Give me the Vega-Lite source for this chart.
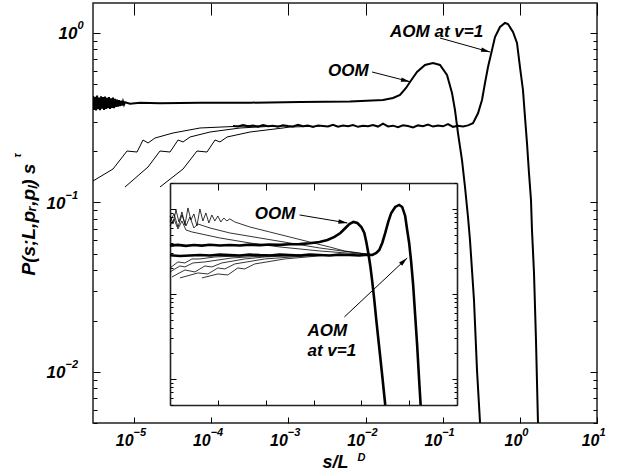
{
  "$schema": "https://vega.github.io/schema/vega-lite/v6.json",
  "width": 504,
  "height": 420,
  "autosize": {"type": "none"},
  "padding": {"left": 93, "top": 3, "right": 21, "bottom": 53},
  "background": "white",
  "config": {
    "view": {"stroke": "#222", "strokeWidth": 1.5},
    "axis": {"grid": false, "labelFont": "Liberation Sans", "titleFont": "Liberation Sans", "labelColor": "#000", "titleColor": "#000", "tickColor": "#000", "tickWidth": 1, "domainColor": "#222", "domainWidth": 1.6, "labelFontWeight": "bold", "labelFontStyle": "italic", "titleFontWeight": "bold", "titleFontStyle": "italic", "labelOverlap": false, "labelBound": false, "labelFlush": false}
  },
  "datasets": {
    "mThick": [
      {"c":"O","x":2.94e-6,"y":0.425},{"c":"O","x":3.03e-6,"y":0.352},{"c":"O","x":3.12e-6,"y":0.42},{"c":"O","x":3.22e-6,"y":0.349},{"c":"O","x":3.32e-6,"y":0.428},{"c":"O","x":3.42e-6,"y":0.355},{"c":"O","x":3.52e-6,"y":0.416},{"c":"O","x":3.63e-6,"y":0.35},{"c":"O","x":3.74e-6,"y":0.423},{"c":"O","x":3.85e-6,"y":0.358},{"c":"O","x":3.97e-6,"y":0.418},{"c":"O","x":4.09e-6,"y":0.352},{"c":"O","x":4.21e-6,"y":0.421},{"c":"O","x":4.34e-6,"y":0.356},{"c":"O","x":4.47e-6,"y":0.414},{"c":"O","x":4.6e-6,"y":0.36},{"c":"O","x":4.74e-6,"y":0.419},{"c":"O","x":4.89e-6,"y":0.357},{"c":"O","x":5.04e-6,"y":0.412},{"c":"O","x":5.19e-6,"y":0.362},{"c":"O","x":5.34e-6,"y":0.416},{"c":"O","x":5.51e-6,"y":0.36},{"c":"O","x":5.67e-6,"y":0.409},{"c":"O","x":5.84e-6,"y":0.366},{"c":"O","x":6.02e-6,"y":0.405},{"c":"O","x":6.2e-6,"y":0.368},{"c":"O","x":6.39e-6,"y":0.402},{"c":"O","x":6.59e-6,"y":0.371},{"c":"O","x":6.78e-6,"y":0.398},{"c":"O","x":6.99e-6,"y":0.374},{"c":"O","x":7.2e-6,"y":0.395},{"c":"O","x":7.42e-6,"y":0.378},{"c":"O","x":7.64e-6,"y":0.39},{"c":"O","x":8.88e-6,"y":0.383},{"c":"O","x":1.196e-5,"y":0.388},{"c":"O","x":2.17e-5,"y":0.385},{"c":"O","x":7.17e-5,"y":0.387},{"c":"O","x":3.19e-4,"y":0.388},{"c":"O","x":1.416e-3,"y":0.391},{"c":"O","x":6.3e-3,"y":0.394},{"c":"O","x":1.685e-2,"y":0.4025},{"c":"O","x":2.272e-2,"y":0.4135},{"c":"O","x":2.8e-2,"y":0.4306},{"c":"O","x":3.35e-2,"y":0.4736},{"c":"O","x":3.77e-2,"y":0.514},{"c":"O","x":4.65e-2,"y":0.589},{"c":"O","x":5.9e-2,"y":0.6476},{"c":"O","x":7.49e-2,"y":0.665},{"c":"O","x":9.23e-2,"y":0.6476},{"c":"O","x":0.1138,"y":0.565},{"c":"O","x":0.1321,"y":0.4426},{"c":"O","x":0.1444,"y":0.3513},{"c":"O","x":0.1579,"y":0.257},{"c":"O","x":0.178,"y":0.178},{"c":"O","x":0.1947,"y":0.1234},{"c":"O","x":0.2129,"y":0.0821},{"c":"O","x":0.2259,"y":0.0601},{"c":"O","x":0.2546,"y":0.0266},{"c":"O","x":0.2785,"y":0.01027},{"c":"O","x":0.3138,"y":0.004},
      {"c":"A","x":1.918e-4,"y":0.283},{"c":"A","x":2.227e-4,"y":0.2805},{"c":"A","x":2.585e-4,"y":0.286},{"c":"A","x":3.001e-4,"y":0.2815},{"c":"A","x":3.484e-4,"y":0.2845},{"c":"A","x":4.045e-4,"y":0.28},{"c":"A","x":4.695e-4,"y":0.2865},{"c":"A","x":5.451e-4,"y":0.282},{"c":"A","x":6.328e-4,"y":0.284},{"c":"A","x":7.346e-4,"y":0.2795},{"c":"A","x":8.528e-4,"y":0.2855},{"c":"A","x":9.9e-4,"y":0.2825},{"c":"A","x":1.149e-3,"y":0.281},{"c":"A","x":1.334e-3,"y":0.287},{"c":"A","x":1.549e-3,"y":0.2815},{"c":"A","x":1.798e-3,"y":0.2845},{"c":"A","x":2.088e-3,"y":0.279},{"c":"A","x":2.423e-3,"y":0.285},{"c":"A","x":2.813e-3,"y":0.283},{"c":"A","x":3.266e-3,"y":0.281},{"c":"A","x":3.792e-3,"y":0.2875},{"c":"A","x":4.402e-3,"y":0.28},{"c":"A","x":5.11e-3,"y":0.2845},{"c":"A","x":5.932e-3,"y":0.282},{"c":"A","x":6.886e-3,"y":0.286},{"c":"A","x":7.995e-3,"y":0.2795},{"c":"A","x":9.281e-3,"y":0.2835},{"c":"A","x":1.0775e-2,"y":0.2815},{"c":"A","x":1.2508e-2,"y":0.2865},{"c":"A","x":1.4521e-2,"y":0.2805},{"c":"A","x":1.6857e-2,"y":0.2915},{"c":"A","x":1.957e-2,"y":0.281},{"c":"A","x":2.272e-2,"y":0.284},{"c":"A","x":2.637e-2,"y":0.2785},{"c":"A","x":3.062e-2,"y":0.2855},{"c":"A","x":3.554e-2,"y":0.2825},{"c":"A","x":4.126e-2,"y":0.2775},{"c":"A","x":4.79e-2,"y":0.285},{"c":"A","x":5.561e-2,"y":0.282},{"c":"A","x":6.456e-2,"y":0.288},{"c":"A","x":7.494e-2,"y":0.2805},{"c":"A","x":8.7e-2,"y":0.2845},{"c":"A","x":0.101,"y":0.2815},{"c":"A","x":0.1173,"y":0.29},{"c":"A","x":0.1361,"y":0.2795},{"c":"A","x":0.158,"y":0.2835},{"c":"A","x":0.1834,"y":0.281},{"c":"A","x":0.2129,"y":0.285},{"c":"A","x":0.2472,"y":0.2934},{"c":"A","x":0.287,"y":0.336},{"c":"A","x":0.3233,"y":0.4025},{"c":"A","x":0.3536,"y":0.507},{"c":"A","x":0.3868,"y":0.63},{"c":"A","x":0.4357,"y":0.794},{"c":"A","x":0.4764,"y":0.947},{"c":"A","x":0.5531,"y":1.085},{"c":"A","x":0.6421,"y":1.146},{"c":"A","x":0.7022,"y":1.13},{"c":"A","x":0.8152,"y":1.014},{"c":"A","x":0.9187,"y":0.873},{"c":"A","x":1.0044,"y":0.63},{"c":"A","x":1.098,"y":0.461},{"c":"A","x":1.166,"y":0.3194},{"c":"A","x":1.238,"y":0.2244},{"c":"A","x":1.314,"y":0.1493},{"c":"A","x":1.395,"y":0.1034},{"c":"A","x":1.437,"y":0.0688},{"c":"A","x":1.526,"y":0.0384},{"c":"A","x":1.619,"y":0.01544},{"c":"A","x":1.719,"y":0.005},{"c":"A","x":1.771,"y":0.004}
    ],
    "mThin": [
      {"c":"1","x":2.94e-6,"y":0.1339},{"c":"1","x":5.34e-6,"y":0.1576},{"c":"1","x":8.12e-6,"y":0.2012},{"c":"1","x":1.094e-5,"y":0.1985},{"c":"1","x":1.308e-5,"y":0.2337},{"c":"1","x":1.519e-5,"y":0.2244},{"c":"1","x":1.871e-5,"y":0.2401},{"c":"1","x":3.2e-5,"y":0.257},{"c":"1","x":7.17e-5,"y":0.2751},{"c":"1","x":2.364e-4,"y":0.282},{"c":"1","x":5e-4,"y":0.283},
      {"c":"2","x":7.64e-6,"y":0.1234},{"c":"2","x":1.519e-5,"y":0.162},{"c":"2","x":2.17e-5,"y":0.2012},{"c":"2","x":2.93e-5,"y":0.1985},{"c":"2","x":3.72e-5,"y":0.2337},{"c":"2","x":4.32e-5,"y":0.2275},{"c":"2","x":5.32e-5,"y":0.2434},{"c":"2","x":9.66e-5,"y":0.2605},{"c":"2","x":2.364e-4,"y":0.2751},{"c":"2","x":6.33e-4,"y":0.282},{"c":"2","x":1e-3,"y":0.283},
      {"c":"3","x":2.17e-5,"y":0.1234},{"c":"3","x":4.32e-5,"y":0.1576},{"c":"3","x":6.55e-5,"y":0.2012},{"c":"3","x":8.83e-5,"y":0.1985},{"c":"3","x":1.121e-4,"y":0.2337},{"c":"3","x":1.301e-4,"y":0.2275},{"c":"3","x":1.604e-4,"y":0.2434},{"c":"3","x":3.19e-4,"y":0.2605},{"c":"3","x":8.53e-4,"y":0.2751},{"c":"3","x":1.051e-3,"y":0.2789},{"c":"3","x":2.57e-3,"y":0.282}
    ],
    "mText": [
      {"t":"OOM","x":3.266e-3,"y":0.597},
      {"t":"AOM at v=1","x":2.08e-2,"y":1.014}
    ],
    "mArrow": [
      {"a":"OOM","x":1.213e-2,"y":0.589,"x2":3.77e-2,"y2":0.516},
      {"a":"AOM","x":9.23e-2,"y":0.934,"x2":0.4105,"y2":0.772}
    ],
    "iThick": [
      {"c":"O","x":1,"y":3.70},{"c":"O","x":1.4678,"y":3.78},{"c":"O","x":2.1544,"y":3.68},{"c":"O","x":3.1623,"y":3.76},{"c":"O","x":4.6416,"y":3.70},{"c":"O","x":6.8129,"y":3.79},{"c":"O","x":11.007,"y":3.71},{"c":"O","x":17.783,"y":3.77},{"c":"O","x":28.73,"y":3.72},{"c":"O","x":46.42,"y":3.80},{"c":"O","x":74.99,"y":3.75},{"c":"O","x":121.15,"y":3.82},{"c":"O","x":195.73,"y":3.78},{"c":"O","x":316.2,"y":3.85},{"c":"O","x":510.9,"y":3.86},{"c":"O","x":825.4,"y":3.95},{"c":"O","x":1333.5,"y":4.09},{"c":"O","x":1957.3,"y":4.318},{"c":"O","x":2738.4,"y":4.684},{"c":"O","x":3651.7,"y":5.22},{"c":"O","x":4641.6,"y":5.976},{"c":"O","x":5623.4,"y":6.659},{"c":"O","x":6812.9,"y":7.031},{"c":"O","x":8254,"y":6.842},{"c":"O","x":10000,"y":6.14},{"c":"O","x":11548,"y":5.22},{"c":"O","x":12711,"y":4.09},{"c":"O","x":13990,"y":3.036},{"c":"O","x":15399,"y":2.135},{"c":"O","x":16950,"y":1.384},{"c":"O","x":18657,"y":0.85},{"c":"O","x":20535,"y":0.494},{"c":"O","x":23714,"y":0.2316},{"c":"O","x":27384,"y":0.1085},{"c":"O","x":31623,"y":0.0494},
      {"c":"A","x":1,"y":2.85},{"c":"A","x":1.6155,"y":2.80},{"c":"A","x":2.6102,"y":2.84},{"c":"A","x":4.217,"y":2.87},{"c":"A","x":6.8129,"y":2.83},{"c":"A","x":11.007,"y":2.90},{"c":"A","x":17.783,"y":2.86},{"c":"A","x":28.73,"y":2.83},{"c":"A","x":46.42,"y":2.90},{"c":"A","x":74.99,"y":2.86},{"c":"A","x":121.15,"y":2.84},{"c":"A","x":195.73,"y":2.90},{"c":"A","x":316.2,"y":2.86},{"c":"A","x":510.9,"y":2.83},{"c":"A","x":825.4,"y":2.90},{"c":"A","x":1333.5,"y":2.87},{"c":"A","x":2154.4,"y":2.84},{"c":"A","x":3480.6,"y":2.90},{"c":"A","x":5623.4,"y":2.87},{"c":"A","x":9085,"y":2.84},{"c":"A","x":13335,"y":2.90},{"c":"A","x":16950,"y":2.876},{"c":"A","x":20535,"y":3.036},{"c":"A","x":23714,"y":3.294},{"c":"A","x":27384,"y":3.981},{"c":"A","x":31623,"y":5.22},{"c":"A","x":36517,"y":7.031},{"c":"A","x":42170,"y":8.974},{"c":"A","x":51089,"y":10.556},{"c":"A","x":61897,"y":11.146},{"c":"A","x":71481,"y":10.556},{"c":"A","x":82540,"y":8.272},{"c":"A","x":90850,"y":5.661},{"c":"A","x":100000,"y":3.981},{"c":"A","x":110070,"y":2.38},{"c":"A","x":121150,"y":1.276},{"c":"A","x":133350,"y":0.566},{"c":"A","x":146780,"y":0.2512},{"c":"A","x":161550,"y":0.0973},{"c":"A","x":173640,"y":0.0494}
    ],
    "iThin": [
      {"c":"h1","x":1,"y":8.272},{"c":"h1","x":1.1548,"y":6.659},{"c":"h1","x":1.3335,"y":9.732},{"c":"h1","x":1.54,"y":7.031},{"c":"h1","x":1.7783,"y":9.221},{"c":"h1","x":2.0535,"y":6.481},{"c":"h1","x":2.3714,"y":10.275},{"c":"h1","x":2.7384,"y":7.423},{"c":"h1","x":3.1623,"y":8.734},{"c":"h1","x":3.6517,"y":6.31},{"c":"h1","x":4.217,"y":10.0},{"c":"h1","x":4.8697,"y":7.224},{"c":"h1","x":5.6234,"y":8.974},{"c":"h1","x":6.4938,"y":6.842},{"c":"h1","x":7.4989,"y":8.5},{"c":"h1","x":8.6596,"y":7.224},{"c":"h1","x":10,"y":8.272},{"c":"h1","x":11.548,"y":7.031},{"c":"h1","x":13.335,"y":7.836},{"c":"h1","x":15.4,"y":7.224},{"c":"h1","x":17.783,"y":7.627},{"c":"h1","x":22.6,"y":7.031},{"c":"h1","x":46.42,"y":6.14},{"c":"h1","x":121.15,"y":5.362},{"c":"h1","x":316.2,"y":4.684},{"c":"h1","x":825.4,"y":4.09},{"c":"h1","x":2154.4,"y":3.573},{"c":"h1","x":4424.8,"y":3.206},{"c":"h1","x":9085,"y":3.036},{"c":"h1","x":16950,"y":2.876},
      {"c":"h2","x":1,"y":7.031},{"c":"h2","x":1.2115,"y":8.734},{"c":"h2","x":1.4678,"y":6.14},{"c":"h2","x":1.7783,"y":8.5},{"c":"h2","x":2.1544,"y":6.31},{"c":"h2","x":2.6102,"y":8.052},{"c":"h2","x":3.1623,"y":5.976},{"c":"h2","x":3.8312,"y":6.659},{"c":"h2","x":6.8129,"y":5.976},{"c":"h2","x":17.783,"y":5.22},{"c":"h2","x":74.99,"y":4.559},{"c":"h2","x":316.2,"y":3.981},{"c":"h2","x":1333.5,"y":3.477},{"c":"h2","x":5623.4,"y":3.12},{"c":"h2","x":16950,"y":2.876},
      {"c":"h3","x":1,"y":6.31},{"c":"h3","x":1.2115,"y":7.627},{"c":"h3","x":1.4678,"y":5.817},{"c":"h3","x":1.7783,"y":7.224},{"c":"h3","x":2.1544,"y":5.661},{"c":"h3","x":2.873,"y":5.362},{"c":"h3","x":11.007,"y":4.559},{"c":"h3","x":46.42,"y":3.981},{"c":"h3","x":195.73,"y":3.573},{"c":"h3","x":1333.5,"y":3.206},{"c":"h3","x":16950,"y":2.876},
      {"c":"l1","x":1,"y":2.022},{"c":"l1","x":1.4678,"y":2.38},{"c":"l1","x":2.0535,"y":2.316},{"c":"l1","x":2.873,"y":2.581},{"c":"l1","x":4.217,"y":2.581},{"c":"l1","x":8.6596,"y":2.724},{"c":"l1","x":28.73,"y":2.8},{"c":"l1","x":95.33,"y":2.876},{"c":"l1","x":510.9,"y":2.876},
      {"c":"l2","x":1,"y":1.815},{"c":"l2","x":1.6155,"y":2.135},{"c":"l2","x":2.0535,"y":2.078},{"c":"l2","x":3.0142,"y":2.316},{"c":"l2","x":5.3597,"y":2.38},{"c":"l2","x":19.573,"y":2.652},{"c":"l2","x":95.33,"y":2.8},{"c":"l2","x":510.9,"y":2.876},
      {"c":"l3","x":1.1007,"y":1.585},{"c":"l3","x":2.0535,"y":1.915},{"c":"l3","x":3.3176,"y":1.815},{"c":"l3","x":5.3597,"y":2.135},{"c":"l3","x":7.4989,"y":2.078},{"c":"l3","x":12.115,"y":2.316},{"c":"l3","x":36.52,"y":2.581},{"c":"l3","x":95.33,"y":2.724},{"c":"l3","x":825.4,"y":2.876},
      {"c":"l4","x":1.6155,"y":1.543},{"c":"l4","x":3.8312,"y":1.766},{"c":"l4","x":6.1897,"y":1.719},{"c":"l4","x":10,"y":2.022},{"c":"l4","x":13.99,"y":1.968},{"c":"l4","x":22.6,"y":2.254},{"c":"l4","x":95.33,"y":2.581},{"c":"l4","x":1333.5,"y":2.876},
      {"c":"l5","x":4.6416,"y":1.543},{"c":"l5","x":10,"y":1.719},{"c":"l5","x":16.155,"y":1.673},{"c":"l5","x":26.1,"y":2.022},{"c":"l5","x":36.52,"y":1.968},{"c":"l5","x":58.99,"y":2.254},{"c":"l5","x":248.8,"y":2.581},{"c":"l5","x":2154.4,"y":2.876}
    ],
    "iText": [
      {"t":"OOM","x":58.99,"y":8.615},
      {"t":"AOM","x":749.9,"y":0.3671},
      {"t":"at v=1","x":749.9,"y":0.2135}
    ],
    "iArrow": [
      {"a":"OOM","x":510.9,"y":8.5,"x2":5109,"y2":6.842},
      {"a":"AOM","x":4424.8,"y":0.5365,"x2":90850,"y2":2.652}
    ],
    "dM": [{"x":0.001,"y":0.1}],
    "dI": [{"x":100,"y":1}]
  },
  "resolve": {"scale": {"x": "independent", "y": "independent"}},
  "layer": [
    {
      "encoding": {
        "x": {"field": "x", "type": "quantitative", "scale": {"type": "log", "domain": [2.94e-6, 10], "nice": false},
              "axis": {"orient": "bottom", "values": [1e-5, 1e-4, 1e-3, 1e-2, 1e-1, 1, 10], "labels": false, "domain": false, "tickSize": -6, "title": null}},
        "y": {"field": "y", "type": "quantitative", "scale": {"type": "log", "domain": [0.005, 1.503], "nice": false},
              "axis": {"orient": "left", "values": [0.005,0.006,0.007,0.008,0.009,0.01,0.02,0.03,0.04,0.05,0.06,0.07,0.08,0.09,0.1,0.2,0.3,0.4,0.5,0.6,0.7,0.8,0.9,1], "labels": false, "domain": false,
                       "tickSize": {"condition": {"test": "abs(log(datum.value)/LN10 - round(log(datum.value)/LN10)) < 0.001", "value": -7}, "value": -4}, "title": null}}
      },
      "layer": [
        {"data": {"name": "mThin"}, "mark": {"type": "line", "color": "#000", "strokeWidth": 1, "clip": true}, "encoding": {"detail": {"field": "c"}}},
        {"data": {"name": "mThick"}, "mark": {"type": "line", "color": "#000", "strokeWidth": 2, "clip": true}, "encoding": {"detail": {"field": "c"}}},
        {"data": {"name": "mText"}, "mark": {"type": "text", "align": "left", "baseline": "middle", "font": "Liberation Sans", "fontSize": 17, "fontWeight": "bold", "fontStyle": "italic", "color": "#000"}, "encoding": {"text": {"field": "t"}}},
        {"data": {"name": "mArrow"}, "mark": {"type": "rule", "color": "#000", "strokeWidth": 1}, "encoding": {"x2": {"field": "x2"}, "y2": {"field": "y2"}}},
        {"data": {"name": "mArrow"}, "transform": [{"filter": "datum.a == 'OOM'"}], "mark": {"type": "point", "shape": "M0,0L-1.8,-0.45L-1.8,0.45Z", "size": 100, "filled": true, "color": "#000", "opacity": 1, "angle": 13}, "encoding": {"x": {"field": "x2", "type": "quantitative"}, "y": {"field": "y2", "type": "quantitative"}}},
        {"data": {"name": "mArrow"}, "transform": [{"filter": "datum.a == 'AOM'"}], "mark": {"type": "point", "shape": "M0,0L-1.8,-0.45L-1.8,0.45Z", "size": 100, "filled": true, "color": "#000", "opacity": 1, "angle": 16}, "encoding": {"x": {"field": "x2", "type": "quantitative"}, "y": {"field": "y2", "type": "quantitative"}}}
      ]
    },
    {
      "data": {"name": "dM"},
      "mark": {"type": "point", "opacity": 0},
      "encoding": {
        "x": {"field": "x", "type": "quantitative", "scale": {"type": "log", "domain": [2.94e-6, 10], "nice": false},
              "axis": {"orient": "top", "values": [1e-5, 1e-4, 1e-3, 1e-2, 1e-1, 1, 10], "labels": false, "domain": false, "tickSize": -12, "title": null}},
        "y": {"field": "y", "type": "quantitative", "scale": {"type": "log", "domain": [0.005, 1.503], "nice": false},
              "axis": {"orient": "right", "values": [0.005,0.006,0.007,0.008,0.009,0.01,0.02,0.03,0.04,0.05,0.06,0.07,0.08,0.09,0.1,0.2,0.3,0.4,0.5,0.6,0.7,0.8,0.9,1], "labels": false, "domain": false,
                       "tickSize": {"condition": {"test": "abs(log(datum.value)/LN10 - round(log(datum.value)/LN10)) < 0.001", "value": -7}, "value": -4}, "title": null}}
      }
    },
    {
      "data": {"name": "dM"},
      "mark": {"type": "point", "opacity": 0},
      "encoding": {
        "x": {"field": "x", "type": "quantitative", "scale": {"type": "log", "domain": [2.94e-6, 10], "nice": false},
              "axis": {"orient": "bottom", "values": [1e-5, 1e-4, 1e-3, 1e-2, 1e-1, 1, 10], "ticks": false, "domain": false, "labelExpr": "'10'",
                       "labelAlign": "right", "labelBaseline": "alphabetic", "labelPadding": 22, "labelFontSize": 16,
                       "labelOffset": {"condition": {"test": "datum.value >= 1", "value": 2}, "value": -1},
                       "title": "s/L", "titleFontSize": 18, "titleX": 242, "titleY": 44, "titleAlign": "center", "titleBaseline": "alphabetic", "titleAngle": 0}},
        "y": {"field": "y", "type": "quantitative", "scale": {"type": "log", "domain": [0.005, 1.503], "nice": false},
              "axis": {"orient": "left", "values": [0.01, 0.1, 1], "ticks": false, "domain": false, "labelExpr": "'10'",
                       "labelAlign": "right", "labelBaseline": "alphabetic", "labelOffset": 6, "labelFontSize": 17,
                       "labelPadding": {"condition": {"test": "datum.value >= 1", "value": 16}, "value": 28},
                       "title": "P(s;L,pᵣ,pₗ) s", "titleFontSize": 19, "titleX": -59, "titleY": 216, "titleAlign": "center", "titleBaseline": "alphabetic", "titleAngle": 270}}
      }
    },
    {
      "data": {"name": "dM"},
      "mark": {"type": "point", "opacity": 0},
      "encoding": {
        "x": {"field": "x", "type": "quantitative", "scale": {"type": "log", "domain": [2.94e-6, 10], "nice": false},
              "axis": {"orient": "bottom", "values": [1e-5, 1e-4, 1e-3, 1e-2, 1e-1, 1, 10], "ticks": false, "domain": false,
                       "labelExpr": "datum.value >= 1 ? '' + round(log(datum.value)/LN10) : '−' + round(-log(datum.value)/LN10)",
                       "labelAlign": "left", "labelBaseline": "alphabetic", "labelPadding": 12, "labelFontSize": 11,
                       "labelOffset": {"condition": {"test": "datum.value >= 1", "value": 2}, "value": -1},
                       "title": "D", "titleFontSize": 11, "titleX": 264, "titleY": 37, "titleAlign": "left", "titleBaseline": "alphabetic", "titleAngle": 0}},
        "y": {"field": "y", "type": "quantitative", "scale": {"type": "log", "domain": [0.005, 1.503], "nice": false},
              "axis": {"orient": "left", "values": [0.01, 0.1, 1], "ticks": false, "domain": false,
                       "labelExpr": "datum.value >= 1 ? '' + round(log(datum.value)/LN10) : '−' + round(-log(datum.value)/LN10)",
                       "labelAlign": "left", "labelBaseline": "alphabetic", "labelOffset": -4, "labelFontSize": 11,
                       "labelPadding": {"condition": {"test": "datum.value >= 1", "value": 16}, "value": 28},
                       "title": "τ", "titleFontSize": 10, "titleX": -73, "titleY": 152, "titleAlign": "center", "titleBaseline": "alphabetic", "titleAngle": 270}}
      }
    },
    {
      "encoding": {
        "x": {"field": "x", "type": "quantitative", "scale": {"type": "log", "domain": [1, 1000000], "range": [77, 364], "nice": false},
              "axis": {"orient": "bottom", "offset": -18, "values": [10, 100, 1000, 10000, 100000], "labels": false, "tickSize": -5, "title": null}},
        "y": {"field": "y", "type": "quantitative", "scale": {"type": "log", "domain": [0.0494, 20.2], "range": [402, 180], "nice": false},
              "axis": {"orient": "left", "offset": -77, "values": [0.05,0.06,0.07,0.08,0.09,0.1,0.2,0.3,0.4,0.5,0.6,0.7,0.8,0.9,1,2,3,4,5,6,7,8,9,10,20], "labels": false,
                       "tickSize": {"condition": {"test": "abs(log(datum.value)/LN10 - round(log(datum.value)/LN10)) < 0.001", "value": -6}, "value": -3}, "title": null}}
      },
      "layer": [
        {"data": {"name": "iThin"}, "mark": {"type": "line", "color": "#000", "strokeWidth": 0.8}, "encoding": {"detail": {"field": "c"}}},
        {"data": {"name": "iThick"}, "mark": {"type": "line", "color": "#000", "strokeWidth": 2.6}, "encoding": {"detail": {"field": "c"}}},
        {"data": {"name": "iText"}, "mark": {"type": "text", "align": "left", "baseline": "middle", "font": "Liberation Sans", "fontSize": 17, "fontWeight": "bold", "fontStyle": "italic", "color": "#000"}, "encoding": {"text": {"field": "t"}}},
        {"data": {"name": "iArrow"}, "mark": {"type": "rule", "color": "#000", "strokeWidth": 1}, "encoding": {"x2": {"field": "x2"}, "y2": {"field": "y2"}}},
        {"data": {"name": "iArrow"}, "transform": [{"filter": "datum.a == 'OOM'"}], "mark": {"type": "point", "shape": "M0,0L-1.8,-0.45L-1.8,0.45Z", "size": 100, "filled": true, "color": "#000", "opacity": 1, "angle": 9.5}, "encoding": {"x": {"field": "x2", "type": "quantitative"}, "y": {"field": "y2", "type": "quantitative"}}},
        {"data": {"name": "iArrow"}, "transform": [{"filter": "datum.a == 'AOM'"}], "mark": {"type": "point", "shape": "M0,0L-1.8,-0.45L-1.8,0.45Z", "size": 100, "filled": true, "color": "#000", "opacity": 1, "angle": -43}, "encoding": {"x": {"field": "x2", "type": "quantitative"}, "y": {"field": "y2", "type": "quantitative"}}}
      ]
    },
    {
      "data": {"name": "dI"},
      "mark": {"type": "point", "opacity": 0},
      "encoding": {
        "x": {"field": "x", "type": "quantitative", "scale": {"type": "log", "domain": [1, 1000000], "range": [77, 364], "nice": false},
              "axis": {"orient": "top", "offset": -180, "values": [10, 100, 1000, 10000, 100000], "labels": false, "tickSize": -7, "title": null}},
        "y": {"field": "y", "type": "quantitative", "scale": {"type": "log", "domain": [0.0494, 20.2], "range": [402, 180], "nice": false},
              "axis": {"orient": "right", "offset": -140, "values": [0.05,0.06,0.07,0.08,0.09,0.1,0.2,0.3,0.4,0.5,0.6,0.7,0.8,0.9,1,2,3,4,5,6,7,8,9,10,20], "labels": false,
                       "tickSize": {"condition": {"test": "abs(log(datum.value)/LN10 - round(log(datum.value)/LN10)) < 0.001", "value": -5}, "value": -3}, "title": null}}
      }
    }
  ]
}
